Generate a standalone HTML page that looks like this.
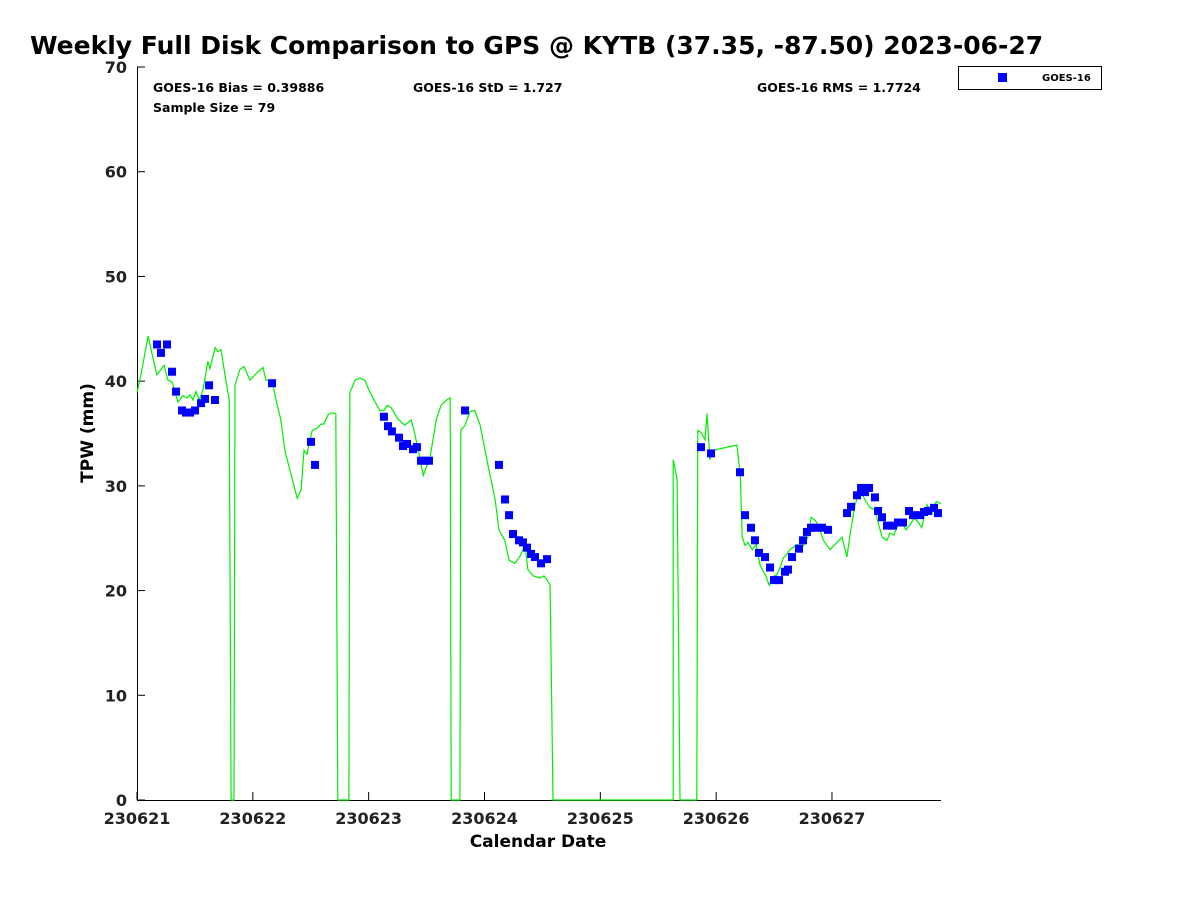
<!DOCTYPE html>
<html><head><meta charset="utf-8"><style>
body{margin:0;background:#fff;}
svg text{font-family:"DejaVu Sans","Liberation Sans",sans-serif;font-weight:bold;}
</style></head><body>
<svg id="chart" width="1200" height="900" xmlns="http://www.w3.org/2000/svg">
<rect width="1200" height="900" fill="#fff"/>
<text x="30" y="54" font-size="25">Weekly Full Disk Comparison to GPS @ KYTB (37.35, -87.50) 2023-06-27</text>
<text x="153" y="92" font-size="12.5">GOES-16 Bias = 0.39886</text>
<text x="153" y="112" font-size="12.5">Sample Size = 79</text>
<text x="413" y="92" font-size="12.5">GOES-16 StD = 1.727</text>
<text x="757" y="92" font-size="12.5">GOES-16 RMS = 1.7724</text>
<g>
<rect x="958.5" y="66.5" width="143" height="23" fill="#fff" stroke="#000"/>
<rect x="998" y="73" width="9" height="9" fill="#0000ff"/>
<text x="1042" y="81" font-size="10">GOES-16</text>
</g>
<g id="axes"></g>
<g id="plot"></g>
<text x="538" y="847" font-size="17" text-anchor="middle">Calendar Date</text>
<text transform="translate(93,433) rotate(-90)" font-size="17" text-anchor="middle">TPW (mm)</text>
</svg>
<script>
const xTickLabels=["230621","230622","230623","230624","230625","230626","230627"];
const yTickLabels=[0,10,20,30,40,50,60,70];
const lineHours=[0,0.8,2.3,4.1,5.6,6.4,7.3,8.5,9.5,10.4,11.0,11.6,12.2,12.9,13.7,14.7,15.1,16.2,16.8,17.4,18.4,19.1,19.5,20.1,20.3,21.3,22.2,23.4,25.1,26.1,26.7,28.0,28.8,29.8,30.7,31.7,33.2,34.0,34.6,35.2,36.3,37.3,38.1,38.7,39.6,40.4,41.2,41.6,43.9,44.1,45.2,46.2,47.2,48.3,50.3,51.2,51.8,52.6,53.9,54.7,55.5,56.8,57.4,58.2,59.3,60.7,62.0,63.0,64.2,64.9,65.1,66.9,67.1,68.0,69.0,70.0,71.1,72.7,74.2,75.0,76.2,77.1,78.3,79.4,80.4,81.0,82.1,82.9,83.5,84.3,85.0,85.6,86.2,111.1,111.1,111.9,112.5,116.0,116.2,116.9,117.7,118.1,118.7,119.4,124.3,125.0,125.4,126.0,126.6,127.5,128.3,129.1,130.2,131.0,131.6,132.5,133.1,133.9,134.5,135.3,135.9,136.8,137.4,138.2,139.0,139.7,140.5,141.1,142.2,143.6,146.1,147.1,147.9,148.8,149.8,150.8,151.9,152.9,153.5,154.4,155.4,156.0,156.8,157.7,158.5,159.3,160.2,161.0,161.8,162.6,163.7,164.3,164.7,165.6,166.6];
const lineTPW=[38.9,40.6,44.3,40.6,41.5,40.1,39.9,38.0,38.6,38.4,38.7,38.2,39.0,38.2,39.2,41.9,41.2,43.2,42.8,43.0,40.1,38.2,0,0,39.6,41.1,41.4,40.1,40.9,41.3,40.1,40.1,38.2,36.3,33.2,31.5,28.8,29.6,33.4,33.0,35.3,35.5,35.9,35.9,36.8,37.0,36.9,0,0,38.9,40.1,40.3,40.1,38.9,37.2,37.2,37.7,37.5,36.5,36.1,35.8,36.3,35.3,33.6,31.0,32.7,36.3,37.7,38.2,38.4,0,0,35.3,35.8,37.1,37.2,35.8,32.0,28.7,25.8,24.8,22.9,22.6,23.3,24.4,22.0,21.4,21.3,21.2,21.4,21.0,20.5,0,0,32.5,30.6,0,0,35.3,35.1,34.4,36.9,32.5,33.4,33.9,31.0,25.1,24.3,24.6,23.9,24.4,22.4,21.5,20.5,21.3,21.5,22.0,23.1,23.4,23.9,24.1,24.4,23.9,24.4,25.1,27.0,26.7,26.3,24.8,23.9,25.1,23.2,25.8,28.2,29.6,28.7,27.9,27.7,26.6,25.1,24.8,25.5,25.3,26.3,26.5,25.8,26.3,26.9,26.6,26.0,28.2,27.7,27.3,28.5,28.3];
const goesDays=[0.173,0.207,0.259,0.302,0.337,0.389,0.423,0.458,0.501,0.553,0.587,0.622,0.673,1.166,1.502,1.537,2.132,2.167,2.201,2.262,2.296,2.331,2.383,2.417,2.452,2.486,2.521,2.832,3.125,3.177,3.212,3.246,3.298,3.332,3.367,3.402,3.436,3.488,3.540,4.869,4.956,5.206,5.249,5.301,5.335,5.370,5.422,5.465,5.499,5.543,5.594,5.620,5.655,5.715,5.750,5.784,5.819,5.853,5.914,5.966,6.130,6.164,6.216,6.251,6.285,6.320,6.371,6.398,6.432,6.475,6.527,6.570,6.613,6.665,6.700,6.760,6.795,6.829,6.881,6.915];
const goesTPW=[43.5,42.7,43.5,40.9,39.0,37.2,37.0,37.0,37.2,37.9,38.3,39.6,38.2,39.8,34.2,32.0,36.6,35.7,35.2,34.6,33.8,34.0,33.5,33.7,32.4,32.4,32.4,37.2,32.0,28.7,27.2,25.4,24.8,24.6,24.1,23.5,23.2,22.6,23.0,33.7,33.1,31.3,27.2,26.0,24.8,23.6,23.2,22.2,21.0,21.0,21.8,22.0,23.2,24.0,24.8,25.6,26.0,26.0,26.0,25.8,27.4,28.0,29.1,29.8,29.4,29.8,28.9,27.6,27.0,26.2,26.2,26.5,26.5,27.6,27.2,27.2,27.5,27.6,27.9,27.4];

const NS="http://www.w3.org/2000/svg";
const X0=137,X1=941,Y0=800,Y1=67,DAYPX=115.83;
const xs=d=>X0+d*DAYPX;
const ys=v=>Y0-(v/70)*(Y0-Y1);
function mk(tag,attrs,parent){const e=document.createElementNS(NS,tag);for(const k in attrs)e.setAttribute(k,attrs[k]);parent.appendChild(e);return e;}
const axes=document.getElementById('axes'),plot=document.getElementById('plot');
const yAxis=mk('line',{x1:X0+0.5,y1:Y1,x2:X0+0.5,y2:Y0,stroke:'#000'},axes);


const xAxis=mk('line',{x1:X0,y1:Y0+0.5,x2:X1,y2:Y0+0.5,stroke:'#000'},axes);


yTickLabels.forEach(v=>{
  const y=ys(v);
  const t=mk('line',{x1:X0,y1:y,x2:X0+8,y2:y,stroke:'#000'},axes);
  
  
  const l=mk('text',{x:127,y:y+6,'font-size':16,'text-anchor':'end',fill:'#222'},axes);
  
  
  l.textContent=v;
});
xTickLabels.forEach((s,i)=>{
  const x=xs(i);
  const t=mk('line',{x1:x,y1:Y0,x2:x,y2:Y0-8,stroke:'#000'},axes);
  
  
  const l=mk('text',{x:x,y:824,'font-size':16,'text-anchor':'middle',fill:'#222'},axes);
  
  
  l.textContent=s;
});
const pts=lineHours.map((h,i)=>xs(h/24).toFixed(1)+','+ys(lineTPW[i]).toFixed(1)).join(' ');
const pl=mk('polyline',{points:pts,fill:'none',stroke:'#00ee00','stroke-width':1.2},plot);


goesDays.forEach((d,i)=>{
  const r=mk('rect',{x:xs(d)-4,y:ys(goesTPW[i])-4,width:8,height:8,fill:'#0000ff'},plot);
  
  
});
</script>
</body></html>
